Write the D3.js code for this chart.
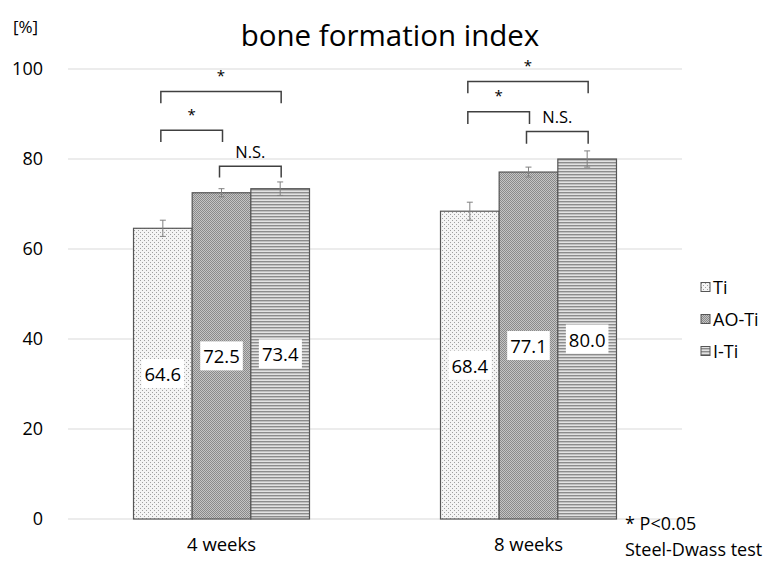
<!DOCTYPE html>
<html>
<head>
<meta charset="utf-8">
<script src="https://cdn.jsdelivr.net/npm/d3@7"></script>
<style>
  body { margin: 0; background: #fff; }
  text { font-family: "Open Sans", "Noto Sans", sans-serif; fill: #000; }
</style>
</head>
<body>
<script>
// data
var weeks = ["4 weeks", "8 weeks"]
var groups = ["Ti", "AO-Ti", "I-Ti"]
var means = {
    "4 weeks": [64.6, 72.5, 73.4],
    "8 weeks": [68.4, 77.1, 80.0]
}
var sds = {
    "4 weeks": [1.8, 0.9, 1.5],
    "8 weeks": [2.0, 1.1, 1.8]
}
var yTicks = [0, 20, 40, 60, 80, 100]
// significance brackets: [week, from group, to group, bar level, leg end level, label]
var brackets = [
    ["4 weeks", 0, 1, 86.4, 83.8, "*"],
    ["4 weeks", 0, 2, 95.0, 92.4, "*"],
    ["4 weeks", 1, 2, 78.4, 75.9, "N.S."],
    ["8 weeks", 0, 1, 90.5, 87.8, "*"],
    ["8 weeks", 0, 2, 97.2, 94.6, "*"],
    ["8 weeks", 1, 2, 86.1, 83.4, "N.S."]
]

var width = 770, height = 568
var margin = {left: 68, right: 88, top: 69, bottom: 49}

var svg = d3.select("body").append("svg")
    .attr("width", width)
    .attr("height", height)

// hatch patterns like the excel fills
var defs = svg.append("defs")
var pTi = defs.append("pattern").attr("id", "pat-ti")
    .attr("patternUnits", "userSpaceOnUse").attr("width", 4).attr("height", 4)
pTi.append("rect").attr("width", 4).attr("height", 4).attr("fill", "#f4f4f4")
pTi.append("rect").attr("x", 0).attr("y", 0).attr("width", 1).attr("height", 1).attr("fill", "#a0a0a0")
pTi.append("rect").attr("x", 2).attr("y", 2).attr("width", 1).attr("height", 1).attr("fill", "#a0a0a0")

var pAo = defs.append("pattern").attr("id", "pat-ao")
    .attr("patternUnits", "userSpaceOnUse").attr("width", 2).attr("height", 2)
pAo.append("rect").attr("width", 2).attr("height", 2).attr("fill", "#c4c4c4")
pAo.append("rect").attr("width", 1).attr("height", 1).attr("fill", "#8a8a8a")
pAo.append("rect").attr("x", 1).attr("y", 1).attr("width", 1).attr("height", 1).attr("fill", "#8a8a8a")

var pIt = defs.append("pattern").attr("id", "pat-it")
    .attr("patternUnits", "userSpaceOnUse").attr("width", 3).attr("height", 3)
pIt.append("rect").attr("width", 3).attr("height", 3).attr("fill", "#e2e2e2")
pIt.append("rect").attr("width", 3).attr("height", 1.4).attr("fill", "#8c8c8c")

var fills = ["url(#pat-ti)", "url(#pat-ao)", "url(#pat-it)"]

var x0 = d3.scaleBand()
    .domain(weeks)
    .range([margin.left, width - margin.right])
    .paddingInner(0.4267)
    .paddingOuter(0.2134)
var x1 = d3.scaleBand()
    .domain(d3.range(groups.length))
    .range([0, x0.bandwidth()])
var y = d3.scaleLinear()
    .domain([0, 100])
    .range([height - margin.bottom, margin.top])

// gridlines
svg.append("g")
    .selectAll("line")
    .data(yTicks)
    .enter().append("line")
    .attr("x1", margin.left).attr("x2", width - margin.right)
    .attr("y1", d => y(d)).attr("y2", d => y(d))
    .attr("stroke", "#d9d9d9").attr("stroke-width", 1)

// y axis labels
var yAxis = svg.append("g")
    .attr("transform", `translate(${margin.left - 25},0)`)
    .call(d3.axisLeft(y).tickValues(yTicks).tickSize(0).tickPadding(0))
yAxis.select(".domain").remove()
yAxis.selectAll("text")
    .style("font-family", "'Open Sans', sans-serif")
    .style("font-size", "18px")
    .attr("fill", "#000")

svg.append("text")
    .attr("x", 13).attr("y", 26)
    .attr("dominant-baseline", "central")
    .style("font-size", "17px")
    .text("[%]")

// x axis labels
var xAxis = svg.append("g")
    .attr("transform", `translate(0,${height - margin.bottom})`)
    .call(d3.axisBottom(x0).tickSize(0).tickPadding(19))
xAxis.select(".domain").remove()
xAxis.selectAll("text")
    .style("font-family", "'Open Sans', sans-serif")
    .style("font-size", "18.5px")
    .attr("fill", "#000")

// bars
var rows = []
weeks.forEach(w => groups.forEach((g, i) => rows.push({week: w, i: i, v: means[w][i], sd: sds[w][i]})))

var bar = svg.append("g").selectAll("g")
    .data(rows)
    .enter().append("g")

bar.append("rect")
    .attr("x", d => x0(d.week) + x1(d.i))
    .attr("y", d => y(d.v))
    .attr("width", x1.bandwidth())
    .attr("height", d => y(0) - y(d.v))
    .attr("fill", d => fills[d.i])
    .attr("stroke", "#555")
    .attr("stroke-width", 1.2)

// error bars
var cx = d => x0(d.week) + x1(d.i) + x1.bandwidth() / 2
bar.append("line")
    .attr("x1", cx).attr("x2", cx)
    .attr("y1", d => y(d.v + d.sd)).attr("y2", d => y(d.v - d.sd))
    .attr("stroke", "#808080").attr("stroke-width", 1)
bar.append("line")
    .attr("x1", d => cx(d) - 3).attr("x2", d => cx(d) + 3)
    .attr("y1", d => y(d.v + d.sd)).attr("y2", d => y(d.v + d.sd))
    .attr("stroke", "#808080").attr("stroke-width", 1)
bar.append("line")
    .attr("x1", d => cx(d) - 3).attr("x2", d => cx(d) + 3)
    .attr("y1", d => y(d.v - d.sd)).attr("y2", d => y(d.v - d.sd))
    .attr("stroke", "#808080").attr("stroke-width", 1)

// value labels in white boxes, centred in the bar
bar.each(function (d) {
    var g = d3.select(this)
    var ty = (y(d.v) + y(0)) / 2
    var t = g.append("text")
        .attr("x", cx(d)).attr("y", ty)
        .attr("text-anchor", "middle")
        .attr("dominant-baseline", "central")
        .style("font-size", "18.5px")
        .text(d.v.toFixed(1))
    var bb = t.node().getBBox()
    g.insert("rect", "text")
        .attr("x", bb.x - 3).attr("y", ty - 14.5)
        .attr("width", bb.width + 6).attr("height", 29)
        .attr("fill", "#fff")
})

// significance brackets
var bg = svg.append("g")
brackets.forEach(b => {
    var xa = x0(b[0]) + x1(b[1]) + x1.bandwidth() / 2 - 2
    var xb = x0(b[0]) + x1(b[2]) + x1.bandwidth() / 2 + 1
    bg.append("path")
        .attr("d", `M${xa},${y(b[4])}V${y(b[3])}H${xb}V${y(b[4])}`)
        .attr("fill", "none")
        .attr("stroke", "#404040")
        .attr("stroke-width", 1.5)
    if (b[5] === "*") {
        // asterisk glyph sits high, so place by baseline
        bg.append("text")
            .attr("x", (xa + xb) / 2)
            .attr("y", y(b[3]) - 19 + 0.57 * 15)
            .attr("text-anchor", "middle")
            .style("font-size", "15px")
            .text(b[5])
    } else {
        bg.append("text")
            .attr("x", (xa + xb) / 2)
            .attr("y", y(b[3]) - 15)
            .attr("text-anchor", "middle")
            .attr("dominant-baseline", "central")
            .style("font-size", "16.5px")
            .text(b[5])
    }
})

// title (alphabetic baseline)
svg.append("text")
    .attr("x", 390).attr("y", 46)
    .attr("text-anchor", "middle")
    .style("font-size", "29.5px")
    .text("bone formation index")

// legend
var legend = svg.append("g").selectAll("g")
    .data(groups)
    .enter().append("g")
    .attr("transform", (d, i) => `translate(701,${287 + i * 32})`)
legend.append("rect")
    .attr("x", 0).attr("y", -4.5)
    .attr("width", 9).attr("height", 9)
    .attr("fill", (d, i) => fills[i])
    .attr("stroke", "#555").attr("stroke-width", 1)
legend.append("text")
    .attr("x", 12).attr("y", 0)
    .attr("dominant-baseline", "central")
    .style("font-size", "18px")
    .text(d => d)

// footnote
svg.append("text")
    .attr("x", 625).attr("y", 523)
    .attr("dominant-baseline", "central")
    .style("font-size", "18px")
    .text("* P<0.05")
svg.append("text")
    .attr("x", 625).attr("y", 549)
    .attr("dominant-baseline", "central")
    .style("font-size", "18px")
    .text("Steel-Dwass test")
</script>
</body>
</html>
